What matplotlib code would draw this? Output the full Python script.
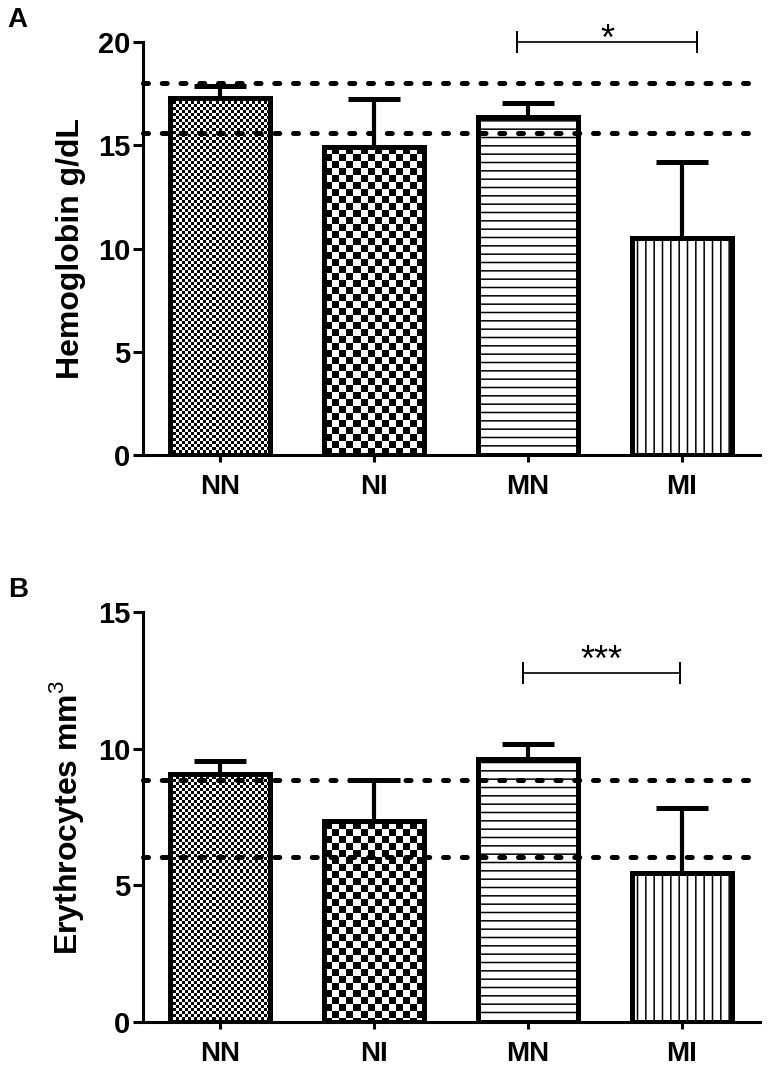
import matplotlib.pyplot as plt
import numpy as np

plt.rcParams['font.family'] = ['Liberation Sans', 'DejaVu Sans']
plt.rcParams['mathtext.fontset'] = 'custom'
plt.rcParams['mathtext.rm'] = 'Liberation Sans'
plt.rcParams['hatch.linewidth'] = 1.1

groups = ['NN', 'NI', 'MN', 'MI']

# Panel A: hemoglobin
hb_mean = [17.3, 14.9, 16.35, 10.5]
hb_err = [0.56, 2.35, 0.69, 3.7]
hb_ref = [18.0, 15.6]
hb_sig = (1.93, 3.10, 20.0, '*')

# Panel B: erythrocytes
er_mean = [9.08, 7.35, 9.63, 5.45]
er_err = [0.46, 1.52, 0.53, 2.37]
er_ref = [8.85, 6.05]
er_sig = (1.97, 2.99, 12.75, '***')

# fill style per group: (checker cell px, hatch)
fills = [(3, None), (7, None), (None, '--'), (None, '||')]


def draw_panel(ax, means, errs, refs, sig, star_dy, ymax, yticks, ylabel, letter):
    x = np.arange(len(groups))
    xlim = (-0.5, 3.51)
    ax.set_xlim(*xlim)
    ax.set_ylim(0, ymax)

    bars = ax.bar(x, means, width=0.65, facecolor='white', edgecolor='black',
                  linewidth=3.6, zorder=3)

    # checkerboard fills, clipped to the bars
    fig = ax.figure
    bbox = ax.get_position()
    w_px = int(bbox.width * fig.get_figwidth() * fig.dpi)
    h_px = int(bbox.height * fig.get_figheight() * fig.dpi)
    yy, xx = np.indices((h_px, w_px))
    for bar, (cell, hatch) in zip(bars, fills):
        if cell:
            board = ((yy // cell + xx // cell) % 2).astype(float)
            im = ax.imshow(board, extent=(xlim[0], xlim[1], 0, ymax), aspect='auto',
                           cmap='gray', interpolation='nearest', zorder=2)
            im.set_clip_path(bar)
            bar.set_facecolor('none')
        if hatch:
            bar.set_hatch(hatch)

    ax.errorbar(x, means, yerr=[np.zeros(len(errs)), errs], fmt='none',
                ecolor='black', elinewidth=3.0, capsize=19, capthick=3.6, zorder=1)

    for r in refs:
        ax.axhline(r, color='black', linewidth=3.6, linestyle=(0, (1.0, 2.75)),
                   dash_capstyle='round', zorder=5, clip_on=False)

    x1, x2, ys, stars = sig
    ax.plot([x1, x2], [ys, ys], color='black', linewidth=1.2, marker='|',
            markersize=16, markeredgewidth=1.4, zorder=4, clip_on=False)
    ax.annotate(stars, xy=((x1 + x2) / 2, ys), xytext=(0, star_dy),
                textcoords='offset points', ha='center', va='baseline',
                fontsize=26, color='black', annotation_clip=False)

    ax.spines['top'].set_visible(False)
    ax.spines['right'].set_visible(False)
    ax.spines['left'].set_linewidth(2.2)
    ax.spines['bottom'].set_linewidth(2.2)
    ax.set_yticks(yticks)
    ax.set_xticks(x)
    ax.set_xticklabels(groups)
    ax.tick_params(axis='y', length=7, width=2.2, labelsize=21, pad=2)
    ax.tick_params(axis='x', length=5, width=2.2, labelsize=20, pad=9)
    for lab in ax.get_xticklabels() + ax.get_yticklabels():
        lab.set_fontweight('bold')
    ax.set_ylabel(ylabel, fontsize=23, fontweight='bold', labelpad=9)
    fig.text(0.010, bbox.y1 + 0.008, letter, fontsize=20, fontweight='bold',
             ha='left', va='bottom')


fig = plt.figure(figsize=(7.67, 10.74), dpi=100)
fig.patch.set_facecolor('white')
ax1 = fig.add_axes([0.1864, 0.5763, 0.805, 0.3846])
ax2 = fig.add_axes([0.1864, 0.0484, 0.805, 0.3818])

draw_panel(ax1, hb_mean, hb_err, hb_ref, hb_sig, -6, 20, [0, 5, 10, 15, 20],
           'Hemoglobin g/dL', 'A')
draw_panel(ax2, er_mean, er_err, er_ref, er_sig, 2, 15, [0, 5, 10, 15],
           'Erythrocytes mm$^3$', 'B')

fig.savefig('out.png', dpi=100)
